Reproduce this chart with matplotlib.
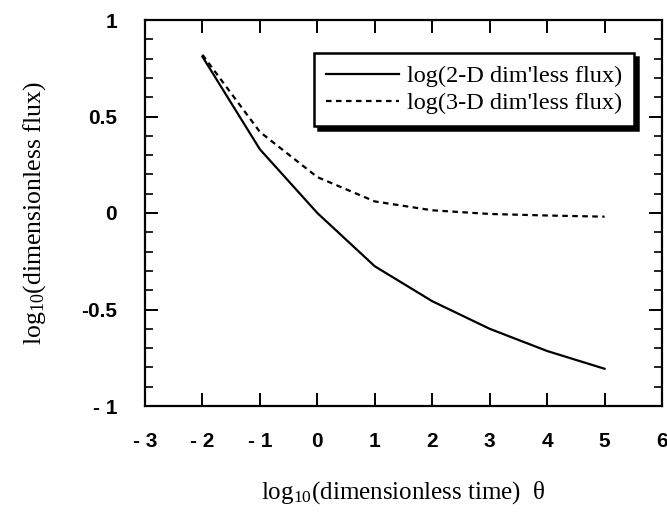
import matplotlib
matplotlib.use("Agg")
import matplotlib.pyplot as plt
from matplotlib.ticker import MultipleLocator, FixedLocator

plt.rcParams["mathtext.fontset"] = "custom"
plt.rcParams["mathtext.rm"] = "Liberation Serif"
plt.rcParams["mathtext.it"] = "Liberation Serif:italic"

# Data
log_time = [-2, -1, 0, 1, 2, 3, 4, 5]
flux_2d = [0.81, 0.33, 0.0, -0.276, -0.457, -0.60, -0.715, -0.807]
flux_3d = [0.82, 0.42, 0.186, 0.06, 0.014, -0.005, -0.013, -0.019]
x_ticks = [-3, -2, -1, 0, 1, 2, 3, 4, 5, 6]
x_tick_labels = ["- 3", "- 2", "- 1", "0", "1", "2", "3", "4", "5", "6"]
y_ticks = [-1, -0.5, 0, 0.5, 1]
y_tick_labels = ["- 1", "-0.5", "0", "0.5", "1"]
series_labels = ["log(2-D dim'less flux)", "log(3-D dim'less flux)"]

fig = plt.figure(figsize=(6.67, 5.14), dpi=100)
ax = fig.add_axes([145/667, 1-406/514, (662-145)/667, (406-20)/514])

ax.plot(log_time, flux_2d, color="black", lw=1.6, label=series_labels[0])
ax.plot(log_time, flux_3d, color="black", lw=1.6, linestyle=(0, (2.5, 2)), label=series_labels[1])

ax.set_xlim(-3, 6)
ax.set_ylim(-1, 1)
ax.xaxis.set_major_locator(FixedLocator(x_ticks))
ax.set_xticklabels(x_tick_labels)
ax.yaxis.set_major_locator(FixedLocator(y_ticks))
ax.set_yticklabels(y_tick_labels)
ax.yaxis.set_minor_locator(MultipleLocator(0.1))

for lab in ax.get_xticklabels() + ax.get_yticklabels():
    lab.set_fontfamily("Liberation Sans")
    lab.set_fontsize(15)
    lab.set_fontweight("bold")

ax.tick_params(axis="both", which="major", direction="in", length=9.5, width=1.4,
               top=True, right=True)
ax.tick_params(axis="y", which="minor", direction="in", length=5.5, width=1.2, right=True)
ax.tick_params(axis="x", which="major", pad=19)
ax.tick_params(axis="y", which="major", pad=20)
for s in ax.spines.values():
    s.set_linewidth(1.6)

ax.set_xlabel("log$_{\\mathrm{10}}$(dimensionless time)  θ", fontfamily="Liberation Serif",
              fontsize=18, labelpad=20)
ax.set_ylabel("log$_{\\mathrm{10}}$(dimensionless flux)", fontfamily="Liberation Serif",
              fontsize=18.5, labelpad=24)

leg = ax.legend(loc="upper right", bbox_to_anchor=((634-145)/517, (406-53)/386),
                prop={"family": "Liberation Serif", "size": 17.5},
                fancybox=False, framealpha=1, edgecolor="black",
                shadow={"color": "black", "alpha": 1, "ox": 3, "oy": -3},
                handlelength=3.0, handletextpad=0.3, borderpad=0.5,
                labelspacing=0.2, borderaxespad=0)
leg.get_frame().set_linewidth(1.8)

fig.savefig("out.png", dpi=100)
